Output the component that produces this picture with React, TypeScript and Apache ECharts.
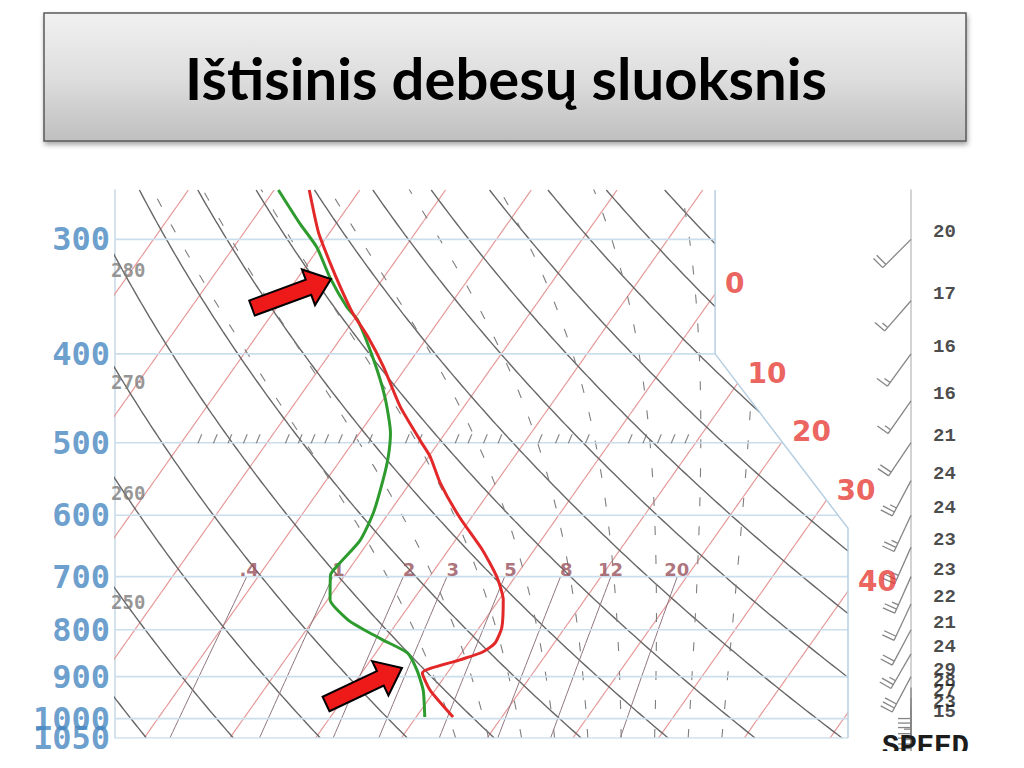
import React, { useEffect, useRef } from "react";
import * as echarts from "echarts";

// ---------------- data ----------------
const TITLE = "Ištisinis debesų sluoksnis";

const pressureLevels = [300, 400, 500, 600, 700, 800, 900, 1000, 1050];
const isothermTemps = [-80, -70, -60, -50, -40, -30, -20, -10, 0, 10, 20, 30, 40, 50];
const isothermLabelTemps = [0, 10, 20, 30, 40];
const dryAdiabatThetas = [230, 240, 250, 260, 270, 280, 290, 300, 310, 320, 330, 340, 350, 360, 370, 380, 390, 400, 410, 420];
const dryAdiabatLabelThetas = [250, 260, 270, 280];
const moistAdiabatStarts = [4, 8, 12, 16, 20, 24, 28, 32, 36];
const mixingRatios = [0.4, 1, 2, 3, 5, 8, 12, 20];
const mixingRatioLabels = [".4", "1", "2", "3", "5", "8", "12", "20"];

// temperature profile (hPa, °C)
const tempPressure = [265, 295, 318, 338, 361, 383, 413, 457, 499, 518, 553, 603, 655, 701, 742, 795, 827, 846, 863, 892, 931, 996];
const tempValues = [-55.9, -51.3, -47.5, -44.3, -40.7, -37.0, -32.7, -27.4, -22.1, -19.8, -16.5, -11.4, -6.0, -2.1, 0.5, 2.6, 3.1, 2.4, 0.4, -2.9, -0.6, 4.3];

// dew point profile (hPa, °C)
const dewPressure = [265, 288, 306, 330, 356, 367, 406, 446, 488, 518, 549, 597, 639, 677, 697, 742, 781, 795, 821, 848, 885, 931, 996];
const dewValues = [-59.5, -54.3, -50.3, -46.3, -41.8, -39.6, -34.4, -30.0, -26.4, -24.7, -23.4, -21.8, -21.1, -21.6, -21.7, -19.7, -15.9, -14.0, -10.2, -6.3, -3.8, -1.4, 1.0];

// wind (hPa, knots, degrees)
const windPressure = [300, 350, 400, 450, 500, 550, 600, 650, 700, 750, 800, 850, 900, 925, 950, 975, 1000];
const windSpeed = [20, 17, 16, 16, 21, 24, 24, 23, 23, 22, 21, 24, 29, 28, 27, 23, 15];
const windDirection = [225, 221, 216, 215, 214, 208, 205, 204, 204, 205, 208, 210, 208, 180, 180, 180, 180];

// hatch marks along 500 hPa (skewed x units)
const hatch500 = [-25.1, -23.3, -21.6, -19.8, -18.3, -14.9, -13.4, -11.9, -10.3, -8.7, -7.0, -5.2, -0.9, 0.6, 4.9, 6.4, 8.2, 9.9, 14.6, 16.6, 18.1, 20.1, 25.1, 26.8, 28.5, 30.1, 31.7];

// ---------------- geometry helpers ----------------
const SKEW = 32.8;
const KAPPA = 0.2895;
const X_MIN = -35;
const X_MAX = 50.5;
const P_TOP = 265;
const P_BOTTOM = 1050;
const BOUNDARY: [number, number][] = [[35, P_TOP], [35, 400], [50.5, 620], [50.5, P_BOTTOM]];

type Pt = [number, number];

function skewX(t: number, p: number) {
  return t + SKEW * Math.log(1000 / p);
}
function logSpace(p0: number, p1: number, n: number) {
  const a = Math.log(p0), b = Math.log(p1);
  return Array.from({ length: n }, (_, i) => Math.exp(a + ((b - a) * i) / (n - 1)));
}
function xRight(p: number) {
  if (p <= 400) return 35;
  if (p >= 620) return 50.5;
  return 35 + ((Math.log(p) - Math.log(400)) / (Math.log(620) - Math.log(400))) * 15.5;
}
function inside(pt: Pt) {
  return pt[0] <= xRight(pt[1]) + 1e-9;
}
function clipCurve(pts: Pt[]): Pt[][] {
  const segs: Pt[][] = [];
  let cur: Pt[] = [];
  for (let i = 0; i < pts.length; i++) {
    const a = pts[i];
    const ins = inside(a);
    if (i > 0) {
      const b = pts[i - 1];
      const insB = inside(b);
      if (ins !== insB) {
        const interp = (t: number): Pt => [
          b[0] + (a[0] - b[0]) * t,
          Math.exp(Math.log(b[1]) + (Math.log(a[1]) - Math.log(b[1])) * t),
        ];
        let lo = 0, hi = 1;
        for (let k = 0; k < 40; k++) {
          const m = (lo + hi) / 2;
          if (inside(interp(m)) === insB) lo = m;
          else hi = m;
        }
        const c = interp((lo + hi) / 2);
        if (insB) {
          cur.push(c);
          segs.push(cur);
          cur = [];
        } else {
          cur = [c];
        }
      }
    }
    if (ins) cur.push(a);
  }
  if (cur.length > 1) segs.push(cur);
  return segs.filter((s) => s.length > 1);
}
function es(tc: number) {
  return 6.112 * Math.exp((17.67 * tc) / (tc + 243.5));
}
function moistLapse(tk: number, p: number) {
  const Rd = 287.04, cp = 1005.7, Lv = 2.501e6, eps = 0.622;
  const e = es(tk - 273.15);
  const rs = (eps * e) / (p - e);
  const num = (Rd * tk + Lv * rs) / p;
  const den = cp + (Lv * Lv * rs * eps) / (Rd * tk * tk);
  return num / den;
}
function moistCurve(t0: number): Pt[] {
  const up: Pt[] = [];
  let tk = t0 + 273.15;
  let p = 1000;
  up.push([skewX(tk - 273.15, p), p]);
  while (p > P_TOP) {
    const dp = -2;
    const k1 = moistLapse(tk, p);
    const k2 = moistLapse(tk + (k1 * dp) / 2, p + dp / 2);
    tk += k2 * dp;
    p += dp;
    if (Math.round(p) % 10 === 0 || p <= P_TOP) up.push([skewX(tk - 273.15, p), p]);
  }
  const down: Pt[] = [];
  tk = t0 + 273.15;
  p = 1000;
  while (p < P_BOTTOM) {
    const dp = 2;
    const k1 = moistLapse(tk, p);
    const k2 = moistLapse(tk + (k1 * dp) / 2, p + dp / 2);
    tk += k2 * dp;
    p += dp;
    if (Math.round(p) % 10 === 0) down.push([skewX(tk - 273.15, p), p]);
  }
  return [...down.reverse(), ...up];
}
function mixingTd(w: number, p: number) {
  const e = (w * p) / (622 + w);
  const l = Math.log(e / 6.112);
  return (243.5 * l) / (17.67 - l);
}
function dryT(theta: number, p: number) {
  return theta * Math.pow(p / 1000, KAPPA) - 273.15;
}
function bisect(f: (p: number) => number, p0: number, p1: number) {
  let a = Math.log(p0), b = Math.log(p1);
  const fa = f(p0);
  for (let i = 0; i < 60; i++) {
    const m = (a + b) / 2;
    const fm = f(Math.exp(m));
    if (Math.sign(fm) === Math.sign(fa)) a = m;
    else b = m;
  }
  return Math.exp((a + b) / 2);
}
function arrowShape(tx: number, ty: number, hx: number, hy: number, sh: number, hh: number, hl: number) {
  const dx = hx - tx, dy = hy - ty;
  const len = Math.hypot(dx, dy);
  const ux = dx / len, uy = dy / len;
  const nx = -uy, ny = ux;
  const bx = hx - ux * hl, by = hy - uy * hl;
  return [
    [tx + nx * sh, ty + ny * sh],
    [bx + nx * sh, by + ny * sh],
    [bx + nx * hh, by + ny * hh],
    [hx, hy],
    [bx - nx * hh, by - ny * hh],
    [bx - nx * sh, by - ny * sh],
    [tx - nx * sh, ty - ny * sh],
  ];
}

// ---------------- option ----------------
function buildOption() {
  const series: any[] = [];
  const samples = logSpace(P_BOTTOM, P_TOP, 160);

  const addSegs = (segs: Pt[][], lineStyle: any, z: number) => {
    segs.forEach((seg) =>
      series.push({
        type: "line",
        xAxisIndex: 0,
        yAxisIndex: 0,
        data: seg,
        showSymbol: false,
        symbol: "none",
        silent: true,
        z,
        lineStyle,
        emphasis: { disabled: true },
      })
    );
  };

  // isotherms
  isothermTemps.forEach((t) => {
    addSegs(clipCurve(samples.map((p) => [skewX(t, p), p] as Pt)), { color: "#e79a9a", width: 1.2 }, 2);
  });
  // dry adiabats
  dryAdiabatThetas.forEach((th) => {
    addSegs(clipCurve(samples.map((p) => [skewX(dryT(th, p), p), p] as Pt)), { color: "#676767", width: 1.4 }, 2);
  });
  // moist adiabats
  moistAdiabatStarts.forEach((t0) => {
    addSegs(clipCurve(moistCurve(t0)), { color: "#7e7e7e", width: 1.1, type: [9, 20] }, 2);
  });
  // mixing ratio lines
  const mrP = logSpace(700, P_BOTTOM, 30);
  mixingRatios.forEach((w) => {
    addSegs(clipCurve(mrP.map((p) => [skewX(mixingTd(w, p), p), p] as Pt)), { color: "#8f767e", width: 1 }, 2);
  });
  // isobars
  pressureLevels.forEach((p) => {
    addSegs([[[X_MIN, p], [xRight(p), p]]], { color: "#cbdeeb", width: 1.6 }, 3);
  });
  // right frame
  addSegs([BOUNDARY.map((b) => [b[0], b[1]] as Pt)], { color: "#b7cfe1", width: 1.5 }, 3);

  // labels: pressures
  series.push({
    type: "scatter",
    xAxisIndex: 0,
    yAxisIndex: 0,
    symbolSize: 0,
    silent: true,
    clip: false,
    z: 6,
    data: pressureLevels.map((p) => [X_MIN, p]),
    label: {
      show: true,
      position: "left",
      distance: 5,
      formatter: (pr: any) => String(pressureLevels[pr.dataIndex]),
      color: "#4686bf",
      fontFamily: "DejaVu Sans Mono",
      fontWeight: "bold",
      fontSize: 32,
    },
  });
  // labels: dry adiabats
  series.push({
    type: "scatter",
    xAxisIndex: 0,
    yAxisIndex: 0,
    symbolSize: 0,
    silent: true,
    clip: false,
    z: 6,
    data: dryAdiabatLabelThetas.map((th) => [X_MIN, bisect((p) => skewX(dryT(th, p), p) - X_MIN, P_TOP, P_BOTTOM)]),
    label: {
      show: true,
      position: "right",
      distance: 0,
      offset: [-4, 14],
      formatter: (pr: any) => String(dryAdiabatLabelThetas[pr.dataIndex]),
      color: "#7b7b7b",
      fontFamily: "DejaVu Sans Mono",
      fontWeight: "bold",
      fontSize: 19,
    },
  });
  // labels: isotherms
  series.push({
    type: "scatter",
    xAxisIndex: 0,
    yAxisIndex: 0,
    symbolSize: 0,
    silent: true,
    clip: false,
    z: 6,
    data: isothermLabelTemps.map((t) => {
      const p = bisect((pp) => skewX(t, pp) - xRight(pp), P_TOP, P_BOTTOM);
      return [xRight(p), p];
    }),
    label: {
      show: true,
      position: "right",
      distance: 10,
      offset: [0, -10],
      formatter: (pr: any) => String(isothermLabelTemps[pr.dataIndex]),
      color: "#e63a36",
      fontFamily: "DejaVu Sans",
      fontWeight: "bold",
      fontSize: 28,
    },
  });
  // labels: mixing ratios
  series.push({
    type: "scatter",
    xAxisIndex: 0,
    yAxisIndex: 0,
    symbolSize: 0,
    silent: true,
    clip: false,
    z: 6,
    data: mixingRatios.map((w) => [skewX(mixingTd(w, 700), 700), 700]),
    label: {
      show: true,
      position: "inside",
      align: "right",
      offset: [12, -7],
      formatter: (pr: any) => mixingRatioLabels[pr.dataIndex],
      color: "#97505b",
      fontFamily: "DejaVu Sans",
      fontWeight: "bold",
      fontSize: 18,
    },
  });
  // hatch at 500
  series.push({
    type: "scatter",
    xAxisIndex: 0,
    yAxisIndex: 0,
    silent: true,
    z: 4,
    symbol: "path://M3,0 L4,0 L1,10 L0,10 Z",
    symbolSize: [5, 9],
    symbolOffset: [0, -4],
    itemStyle: { color: "#666666" },
    data: hatch500.map((x) => [x, 500]),
  });

  // profiles
  series.push({
    type: "line",
    xAxisIndex: 0,
    yAxisIndex: 0,
    data: dewPressure.map((p, i) => [skewX(dewValues[i], p), p]),
    showSymbol: false,
    symbol: "none",
    smooth: 0.2,
    silent: true,
    z: 8,
    lineStyle: { color: "#2e9b2e", width: 3 },
  });
  series.push({
    type: "line",
    xAxisIndex: 0,
    yAxisIndex: 0,
    data: tempPressure.map((p, i) => [skewX(tempValues[i], p), p]),
    showSymbol: false,
    symbol: "none",
    smooth: 0.2,
    silent: true,
    z: 9,
    lineStyle: { color: "#e22828", width: 3 },
  });

  // wind barbs
  series.push({
    type: "custom",
    coordinateSystem: "cartesian2d",
    xAxisIndex: 1,
    yAxisIndex: 1,
    clip: false,
    silent: true,
    z: 5,
    data: windPressure.map((p, i) => [0, p, windSpeed[i], windDirection[i]]),
    renderItem: (_params: any, api: any) => {
      const pt = api.coord([api.value(0), api.value(1)]);
      const spd = api.value(2);
      const dir = (api.value(3) * Math.PI) / 180;
      const sx = Math.sin(dir), sy = -Math.cos(dir);
      const fx = -sy, fy = sx;
      const L = 40;
      const tipX = pt[0] + sx * L, tipY = pt[1] + sy * L;
      const style = { stroke: "#858585", lineWidth: 1.3, fill: null };
      const children: any[] = [
        { type: "line", shape: { x1: pt[0], y1: pt[1], x2: tipX, y2: tipY }, style },
      ];
      const rounded = Math.round(spd / 5) * 5;
      const full = Math.floor(rounded / 10);
      const half = rounded % 10 >= 5;
      for (let k = 0; k < full; k++) {
        const bx = tipX - sx * k * 4.5, by = tipY - sy * k * 4.5;
        children.push({ type: "line", shape: { x1: bx, y1: by, x2: bx + fx * 13, y2: by + fy * 13 }, style });
      }
      if (half) {
        const bx = tipX - sx * full * 4.5, by = tipY - sy * full * 4.5;
        children.push({ type: "line", shape: { x1: bx, y1: by, x2: bx + fx * 7, y2: by + fy * 7 }, style });
      }
      return { type: "group", children };
    },
  });
  // wind speed labels
  series.push({
    type: "scatter",
    xAxisIndex: 1,
    yAxisIndex: 1,
    symbolSize: 0,
    silent: true,
    clip: false,
    z: 6,
    data: windPressure.map((p) => [0, p]),
    label: {
      show: true,
      position: "right",
      distance: 22,
      offset: [0, -7],
      formatter: (pr: any) => String(windSpeed[pr.dataIndex]),
      color: "#1c1c1c",
      fontFamily: "Liberation Mono",
      fontWeight: "bold",
      fontSize: 19,
    },
  });

  const a1 = arrowShape(252, 308, 331, 279, 8, 19, 24);
  const a2 = arrowShape(326, 704, 402, 668, 8, 19, 24);

  return {
    animation: false,
    backgroundColor: "#ffffff",
    grid: [
      { left: 115, top: 190, width: 733, height: 548 },
      { left: 860, top: 190, width: 51, height: 548 },
    ],
    xAxis: [
      { type: "value", gridIndex: 0, min: X_MIN, max: X_MAX, show: false },
      { type: "value", gridIndex: 1, min: -1, max: 0, show: false },
    ],
    yAxis: [
      {
        type: "log",
        gridIndex: 0,
        min: P_TOP,
        max: P_BOTTOM,
        inverse: true,
        position: "left",
        axisLine: { show: true, onZero: false, lineStyle: { color: "#c9d9e5", width: 1.5 } },
        axisTick: { show: false },
        axisLabel: { show: false },
        splitLine: { show: false },
      },
      {
        type: "log",
        gridIndex: 1,
        min: P_TOP,
        max: P_BOTTOM,
        inverse: true,
        position: "right",
        axisLine: { show: true, onZero: false, lineStyle: { color: "#c4c4c4", width: 1.5 } },
        axisTick: { show: false },
        axisLabel: { show: false },
        splitLine: { show: false },
      },
    ],
    graphic: [
      {
        type: "rect",
        z: 10,
        shape: { x: 44, y: 13, width: 922, height: 128 },
        style: {
          fill: new echarts.graphic.LinearGradient(0, 0, 0, 1, [
            { offset: 0, color: "#f1f1f1" },
            { offset: 0.5, color: "#dedede" },
            { offset: 1, color: "#bfbfbf" },
          ]),
          stroke: "#5a5a5a",
          lineWidth: 1.5,
          shadowBlur: 5,
          shadowOffsetX: 1,
          shadowOffsetY: 3,
          shadowColor: "rgba(0,0,0,0.35)",
        },
      },
      {
        type: "text",
        z: 11,
        style: {
          text: TITLE,
          x: 506,
          y: 77,
          align: "center",
          verticalAlign: "middle",
          fill: "#000000",
          fontFamily: "Lato",
          fontWeight: "bold",
          fontSize: 58,
        },
      },
      {
        type: "polygon",
        z: 100,
        shape: { points: a1 },
        style: { fill: "#ee1a1a", stroke: "#000000", lineWidth: 2 },
      },
      {
        type: "polygon",
        z: 100,
        shape: { points: a2 },
        style: { fill: "#ee1a1a", stroke: "#000000", lineWidth: 2 },
      },
      {
        type: "text",
        z: 50,
        style: {
          text: "SPEED",
          x: 882,
          y: 733,
          fill: "#1c1c1c",
          fontFamily: "Liberation Mono",
          fontWeight: "bold",
          fontSize: 29,
        },
      },
      {
        type: "rect",
        z: 60,
        shape: { x: 860, y: 751, width: 164, height: 17 },
        style: { fill: "#ffffff" },
      },
    ],
    series,
  };
}

export default function App() {
  const ref = useRef<HTMLDivElement>(null);
  useEffect(() => {
    if (!ref.current) return;
    const chart = echarts.init(ref.current, undefined, { renderer: "svg" });
    chart.setOption(buildOption() as any);
    return () => chart.dispose();
  }, []);
  return (
    <div
      ref={ref}
      style={{ position: "fixed", left: 0, top: 0, width: 1024, height: 768, background: "#fff" }}
    />
  );
}
